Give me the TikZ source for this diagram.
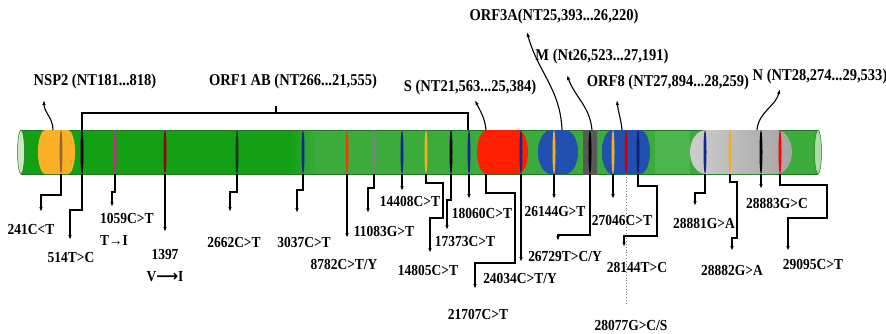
\documentclass[tikz,border=0pt]{standalone}
\usepackage{fontspec}
\setmainfont{Liberation Serif}[FakeStretch=0.88]
\newfontfamily\frecce{DejaVu Sans}
\usetikzlibrary{arrows.meta}

\definecolor{verdeA}{HTML}{14A014}
\definecolor{verdeB}{HTML}{3BAB3B}
\definecolor{verdeC}{HTML}{4DB54D}
\definecolor{bordo}{HTML}{1F7A1F}
\definecolor{tappo}{HTML}{C8E8C4}
\definecolor{arancio}{HTML}{FAB62C}
\definecolor{rosso}{HTML}{FF1E00}
\definecolor{blu}{HTML}{3B72D4}
\definecolor{bluscuro}{HTML}{2250B0}
\definecolor{grigio}{HTML}{B8B6B6}
\definecolor{navy}{HTML}{13288E}
\definecolor{giallo}{HTML}{F0B020}

% segmento con estremi arrotondati: x1, x2, raggio, stile
\newcommand{\segmento}[4]{%
  \path[#4] ([xshift=#3]#1,130) -- ([xshift=-#3]#2,130)
    arc[start angle=90,end angle=-90,x radius=#3,y radius=22pt]
    -- ([xshift=#3]#1,174)
    arc[start angle=270,end angle=90,x radius=#3,y radius=22pt] -- cycle;}

\tikzset{
  lbl/.style={font=\bfseries\fontsize{15.3}{16}\selectfont, inner sep=0pt},
  toplbl/.style={font=\bfseries\fontsize{16.5}{17}\selectfont, inner sep=0pt},
  lead/.style={line width=1.1pt, -{Latex[length=5pt,width=3.5pt]}},
  curva/.style={line width=1.1pt, -{Latex[length=5pt,width=3.5pt]}},
  brack/.style={line width=1.3pt},
  tacca/.style={fill=#1},
}

\begin{document}
\begin{tikzpicture}[x=1pt,y=-1pt]
\useasboundingbox (0,0) rectangle (886,333);

%disegno barra
\fill[verdeA] (21,130) rectangle (290,174);
\fill[left color=verdeA,right color=verdeB] (290,130) rectangle (315,174);
\fill[verdeB] (315,130) rectangle (818,174);
\fill[verdeC] (655,130) rectangle (690,174);
\draw[bordo,line width=0.6pt] (21,130) -- (818,130) (21,174) -- (818,174);
\draw[bordo,fill=tappo,line width=0.5pt] (21,152) ellipse[x radius=3.5pt,y radius=22pt];
\draw[bordo,fill=tappo!80!verdeB,line width=0.5pt] (818,152) ellipse[x radius=3.5pt,y radius=22pt];

%disegno i geni
\segmento{38}{75}{7pt}{left color=arancio!90!orange,middle color=arancio!80!yellow,right color=arancio!90!orange}
\segmento{477}{528}{10pt}{fill=rosso}
\segmento{538}{578}{13pt}{left color=bluscuro,middle color=blu!80!white,right color=bluscuro}
\fill[left color=gray!70!black,middle color=black,right color=gray!70!black] (583,130) rectangle (597,174);
\segmento{602}{650}{10pt}{left color=bluscuro,middle color=blu!85!white,right color=bluscuro}
\segmento{690}{792}{16pt}{left color=grigio!70!white,right color=grigio!90!black}

%disegno le mutazioni
\foreach \n/\x/\c in {241/61/brown!80!black, 514/82/black, 1059/115/magenta!80!black,
    1397/165/red!60!black, 2662/237/green!20!black, 3037/303/navy, 8782/347/orange!40!red,
    11083/374/gray, 14408/402/navy, 14805/426/giallo, 17373/451/black, 18060/469/navy,
    24034/521/navy, 26144/554/giallo, 26729/590/black, 27046/613/giallo,
    28077/626/red!80!black, 28144/638/navy!80!black, 28881/705/navy, 28882/730/giallo,
    28883/761/black, 29095/780/red}{
  \fill[tacca=\c] (\x,152) ellipse[x radius=1.5pt,y radius=22pt];
  \coordinate (m\n) at (\x,174);
}
\coordinate (m21707) at (486,174);

%etichette in alto
\node[toplbl] (nsp2) at (95,82) {NSP2 (NT181...818)};
\node[toplbl] (orf1) at (293,82) {ORF1 AB (NT266...21,555)};
\node[toplbl] (sgene) at (470,88) {S (NT21,563...25,384)};
\node[toplbl] (orf3a) at (554,17) {ORF3A(NT25,393...26,220)};
\node[toplbl] (mgene) at (602,57) {M (Nt26,523...27,191)};
\node[toplbl] (orf8) at (668,83) {ORF8 (NT27,894...28,259)};
\node[toplbl] (ngene) at (820,77) {N (NT28,274...29,533)};

%frecce verso le etichette
\coordinate (tNSP2) at (44,100);
\coordinate (tS) at (475,100);
\coordinate (tORF3A) at (527,32);
\coordinate (tM) at (567,75);
\coordinate (tORF8) at (617,100);
\coordinate (tN) at (780,89);
\draw[curva] (53,130) to[out=90,in=-90] (tNSP2);
\draw[curva] (486,130) to[out=95,in=-65] (tS);
\draw[curva] (562,130) to[out=92,in=-75] (tORF3A);
\draw[curva] (592,130) to[out=95,in=-70] (tM);
\draw[curva] (622,130) to[out=95,in=-85] (tORF8);
\draw[curva] (757,130) to[out=85,in=-105] (tN);

%parentesi ORF1 AB
\draw[brack] (82,130) |- (468,113) -- (468,130);
\draw[brack] (276,113) -- (276,106);

%etichette in basso
\node[lbl] (l241) at (31,230) {241C<T};
\node[lbl] (l514) at (71,258) {514T>C};
\node[lbl,anchor=west] (l1059) at (100,218) {1059C>T};
\node[lbl,anchor=west] (l1059b) at (100,240) {T→I};
\node[lbl] (l1397) at (165,255) {1397};
\node[lbl] (l1397b) at (165,277) {V{\frecce\bfseries ⟶}I};
\node[lbl] (l2662) at (234,243) {2662C>T};
\node[lbl] (l3037) at (304,242) {3037C>T};
\node[lbl] (l8782) at (344,264) {8782C>T/Y};
\node[lbl] (l11083) at (384,231) {11083G>T};
\node[lbl] (l14408) at (410,201) {14408C>T};
\node[lbl] (l14805) at (428,270) {14805C>T};
\node[lbl] (l17373) at (465,242) {17373C>T};
\node[lbl] (l18060) at (482,213) {18060C>T};
\node[lbl] (l21707) at (478,314) {21707C>T};
\node[lbl] (l24034) at (520,278) {24034C>T/Y};
\node[lbl] (l26144) at (555,212) {26144G>T};
\node[lbl] (l26729) at (565,257) {26729T>C/Y};
\node[lbl] (l27046) at (622,220) {27046C>T};
\node[lbl] (l28144) at (637,267) {28144T>C};
\node[lbl] (l28077) at (631,325) {28077G>C/S};
\node[lbl] (l28881) at (704,223) {28881G>A};
\node[lbl] (l28882) at (732,270) {28882G>A};
\node[lbl] (l28883) at (777,203) {28883G>C};
\node[lbl] (l29095) at (813,264) {29095C>T};

%punte delle frecce in basso
\coordinate (t241) at (41,212);
\coordinate (t514) at (70,240);
\coordinate (t1059) at (112,207);
\coordinate (t1397) at (165,232);
\coordinate (t2662) at (230,212);
\coordinate (t3037) at (297,213);
\coordinate (t8782) at (347,238);
\coordinate (t11083) at (368,213);
\coordinate (t14408) at (402,191);
\coordinate (t14805) at (430,253);
\coordinate (t17373) at (447,230);
\coordinate (t18060) at (469,199);
\coordinate (t21707) at (475,289);
\coordinate (t24034) at (521,262);
\coordinate (t26144) at (554,199);
\coordinate (t26729) at (558,241);
\coordinate (t27046) at (613,199);
\coordinate (t28077) at (626,305);
\coordinate (t28144) at (624,247);
\coordinate (t28881) at (695,206);
\coordinate (t28882) at (732,251);
\coordinate (t28883) at (761,189);
\coordinate (t29095) at (788,251);

%linee di richiamo
\draw[lead] (m241) -- ++(0,21) -| (t241);
\draw[lead] (m514) -- ++(0,36) -| (t514);
\draw[lead] (m1059) -- ++(0,18) -| (t1059);
\draw[lead] (m1397) -- (t1397);
\draw[lead] (m2662) -- ++(0,18) -| (t2662);
\draw[lead] (m3037) -- ++(0,16) -| (t3037);
\draw[lead] (m8782) -- (t8782);
\draw[lead] (m11083) -- ++(0,14) -| (t11083);
\draw[lead] (m14408) -- (t14408);
\draw[lead] (m14805) -- ++(0,9) -| ++(17,35) -| (t14805);
\draw[lead] (m17373) -- ++(0,26) -| (t17373);
\draw[lead] (m18060) -- (t18060);
\draw[lead] (m21707) -- ++(0,19) -| ++(29,70) -| (t21707);
\draw[lead] (m24034) -- (t24034);
\draw[lead] (m26144) -- (t26144);
\draw[lead] (m26729) -- ++(0,61) -| (t26729);
\draw[lead] (m27046) -- (t27046);
\draw[gray,dotted,line width=0.8pt] (m28077) -- (t28077);
\draw[lead] (m28144) -- ++(0,12) -| ++(19,50) -| (t28144);
\draw[lead] (m28881) -- ++(0,19) -| (t28881);
\draw[lead] (m28882) -- ++(0,8) -| ++(7,56) -| (t28882);
\draw[lead] (m28883) -- (t28883);
\draw[lead] (m29095) -- ++(0,11) -| ++(47,33) -| (t29095);
\end{tikzpicture}
\end{document}
